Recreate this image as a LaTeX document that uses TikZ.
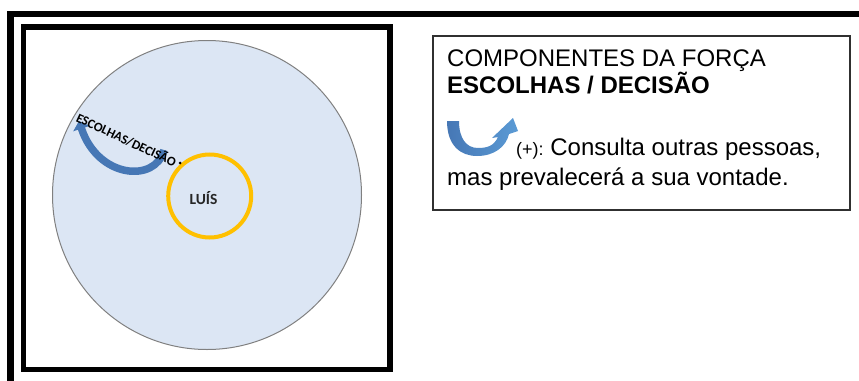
\documentclass[tikz,border=0pt]{standalone}
\usepackage{fontspec}
\setmainfont{Liberation Sans}
\newfontfamily\lsans{Liberation Sans}
\newfontfamily\calib{Carlito}
\usetikzlibrary{arrows.meta}
\definecolor{discblue}{HTML}{DCE6F4}
\definecolor{discedge}{HTML}{808080}
\definecolor{gold}{HTML}{FFC000}
\definecolor{arrowdark}{HTML}{4677B5}
\definecolor{arrowlight}{HTML}{5B9BD5}
\definecolor{boxedge}{HTML}{303030}
\tikzset{
  legtext/.style={anchor=base west, inner sep=0pt, text=black, font=\lsans\fontsize{24}{28}\selectfont},
  legbold/.style={legtext, font=\lsans\bfseries\fontsize{24}{28}\selectfont},
  framebar/.style={line width=6.5pt, black, line join=miter},
  panelbox/.style={line width=5.5pt, black},
  legendbox/.style={line width=2pt, draw=boxedge},
}
\begin{document}
\begin{tikzpicture}[x=1pt,y=-1pt]
\useasboundingbox (0,0) rectangle (859,380);
\clip (0,0) rectangle (859,380);
\fill[white] (0,0) rectangle (859,380);
% outer frame (top and left bars)
\draw[framebar] (880,14.2) -- (10.7,14.2) -- (10.7,400);
% left panel box
\draw[panelbox] (23.3,27) rectangle (390,369.5);
% big disc
\node[circle, minimum size=309pt, inner sep=0pt, outer sep=0pt, fill=discblue, draw=discedge, line width=1pt] (disc) at (207,195) {};
% Luis circle
\node[circle, minimum size=83pt, inner sep=0pt, draw=gold, line width=4pt] (luis) at (209.7,196) {};
\node[inner sep=0pt, font=\calib\bfseries\fontsize{15.5}{15.5}\selectfont, text=black!85] (luistxt) at (203.5,198.5) {LUÍS};
% curved arrow in disc
\coordinate (ctail) at (164,150);
\coordinate (chead) at (79,121);
\draw[arrowdark, line width=7.5pt, -{Triangle[width=17pt,length=8pt]}] (ctail) .. controls (156,183) and (98,179) .. (chead);
% rotated label
\node[inner sep=0pt, rotate=-25, font=\calib\bfseries\fontsize{13}{13}\selectfont, text=black] (forcelbl) at (126.5,139.5) {ESCOLHAS/DECISÃO};
\node[circle, fill=black, inner sep=0pt, minimum size=3pt] (dot) at (180,163) {};
% legend box
\draw[legendbox] (433,35.5) rectangle (849.5,210);
\node[legtext] (l1) at (447,66.7) {COMPONENTES DA FORÇA};
\node[legbold] (l2) at (447,93.3) {ESCOLHAS / DECISÃO};
\shade[left color=arrowdark, right color=arrowlight]
  (447,121) .. controls (447,146) and (461,156) .. (477,156)
  .. controls (494,156) and (506,147) .. (509,134)
  -- (518,131) -- (513,118) -- (492,138) -- (498,137)
  .. controls (494,146) and (487,148) .. (478,148)
  .. controls (466,148) and (459,138) .. (459,121) -- cycle;
\node[legtext] (l3) at (516,155) {{\fontsize{18}{18}\selectfont(+): }Consulta outras pessoas,};
\node[legtext] (l4) at (447,185) {mas prevalecerá a sua vontade.};
\end{tikzpicture}
\end{document}
